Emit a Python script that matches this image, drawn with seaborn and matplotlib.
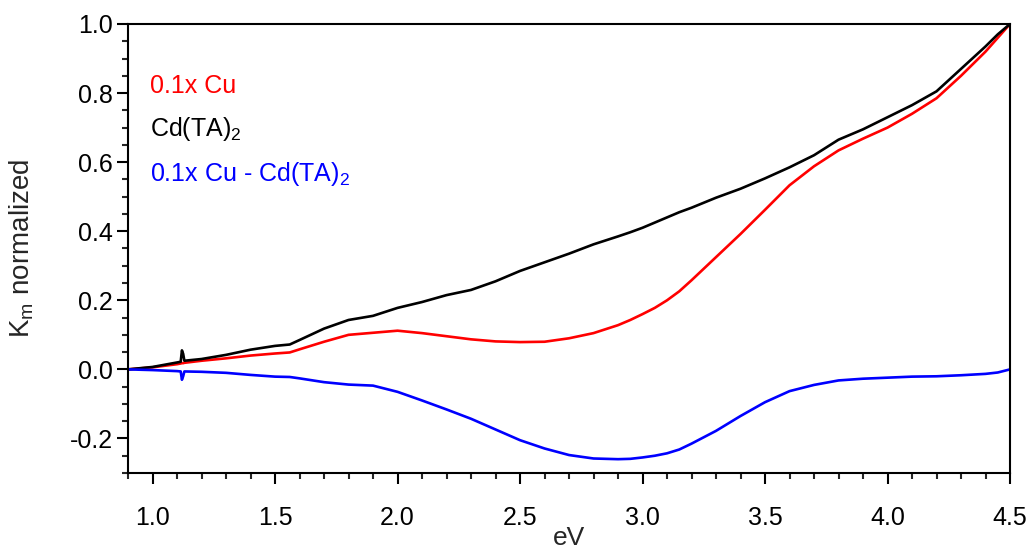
import numpy as np
import pandas as pd
import matplotlib
matplotlib.use("Agg")
import matplotlib.pyplot as plt
from matplotlib.ticker import MultipleLocator, FormatStrFormatter
import seaborn as sns

# ---- data ----
energy_ev = [0.9, 1.0, 1.1, 1.115, 1.12, 1.125, 1.13, 1.2, 1.3, 1.4, 1.5, 1.56, 1.6,
             1.7, 1.8, 1.9, 2.0, 2.1, 2.2, 2.3, 2.4, 2.5, 2.6, 2.7, 2.8, 2.9, 2.95,
             3.0, 3.05, 3.1, 3.15, 3.2, 3.3, 3.4, 3.5, 3.6, 3.7, 3.8, 3.9, 4.0, 4.1,
             4.2, 4.3, 4.4, 4.45, 4.5]

cu_01x = [0.0, 0.006, 0.015, 0.017, 0.018, 0.018, 0.019, 0.025, 0.032, 0.040, 0.046,
          0.049, 0.058, 0.080, 0.100, 0.106, 0.112, 0.105, 0.096, 0.087, 0.081, 0.079,
          0.080, 0.090, 0.105, 0.128, 0.143, 0.160, 0.178, 0.200, 0.226, 0.258, 0.325,
          0.392, 0.462, 0.533, 0.588, 0.634, 0.668, 0.700, 0.740, 0.785, 0.850, 0.920,
          0.960, 1.0]

cd_ta2 = [0.0, 0.007, 0.020, 0.022, 0.055, 0.045, 0.025, 0.030, 0.042, 0.057, 0.068,
          0.072, 0.085, 0.118, 0.143, 0.155, 0.178, 0.195, 0.215, 0.230, 0.255, 0.285,
          0.310, 0.335, 0.362, 0.385, 0.397, 0.410, 0.425, 0.440, 0.455, 0.468, 0.497,
          0.523, 0.553, 0.585, 0.620, 0.665, 0.695, 0.730, 0.765, 0.805, 0.870, 0.935,
          0.970, 1.0]

difference = [0.0, -0.002, -0.005, -0.006, -0.030, -0.020, -0.006, -0.007, -0.010,
              -0.016, -0.021, -0.022, -0.026, -0.037, -0.044, -0.047, -0.065, -0.090,
              -0.116, -0.143, -0.174, -0.205, -0.229, -0.248, -0.258, -0.260, -0.259,
              -0.255, -0.250, -0.243, -0.232, -0.215, -0.178, -0.135, -0.095, -0.063,
              -0.045, -0.032, -0.027, -0.024, -0.021, -0.020, -0.017, -0.013, -0.009,
              0.0]

series_labels = ["0.1x Cu", r"Cd(TA)$_2$", r"0.1x Cu - Cd(TA)$_2$"]
series_colors = ["#ff0000", "#000000", "#0000ff"]

x_label = "eV"
y_label = r"K$_\mathrm{m}$ normalized"

# ---- build long table ----
frames = []
for lab, vals in zip(series_labels, [cu_01x, cd_ta2, difference]):
    frames.append(pd.DataFrame({"eV": energy_ev, "K": vals, "series": lab}))
df = pd.concat(frames, ignore_index=True)

sns.set_style("ticks")
plt.rcParams["font.family"] = ["Liberation Sans", "DejaVu Sans"]
plt.rcParams["mathtext.fontset"] = "custom"
plt.rcParams["mathtext.rm"] = "Liberation Sans"
plt.rcParams["mathtext.it"] = "Liberation Sans:italic"
plt.rcParams["mathtext.default"] = "regular"

fig = plt.figure(figsize=(10.3, 5.5), dpi=100)
ax = fig.add_axes([0.1243, 0.14, 0.9806 - 0.1243, 0.9564 - 0.14])

sns.lineplot(data=df, x="eV", y="K", hue="series", hue_order=series_labels,
             palette=dict(zip(series_labels, series_colors)), estimator=None,
             sort=False, linewidth=1.9, ax=ax)

ax.set_xlim(0.9, 4.5)
ax.set_ylim(-0.3, 1.0)
ax.xaxis.set_major_locator(MultipleLocator(0.5))
ax.xaxis.set_minor_locator(MultipleLocator(0.1))
ax.yaxis.set_major_locator(MultipleLocator(0.2))
ax.yaxis.set_minor_locator(MultipleLocator(0.05))
ax.xaxis.set_major_formatter(FormatStrFormatter("%.1f"))
ax.yaxis.set_major_formatter(FormatStrFormatter("%.1f"))

for sp in ax.spines.values():
    sp.set_linewidth(1.5)
    sp.set_color("black")
    sp.set_visible(True)

ax.tick_params(axis="both", which="major", direction="out", length=8, width=1.5,
               labelsize=18, colors="black")
ax.tick_params(axis="both", which="minor", direction="out", length=4.5, width=1.5)
ax.tick_params(axis="x", which="major", pad=16)
ax.tick_params(axis="y", which="major", pad=3)
ax.tick_params(top=False, right=False, which="both")

ax.set_xlabel(x_label, fontsize=19)
ax.set_ylabel(y_label, fontsize=20)
ax.xaxis.set_label_coords(0.5, -0.118)
ax.yaxis.set_label_coords(-0.104, 0.5)

leg = ax.legend(loc="upper left", bbox_to_anchor=(0.025, 0.889), frameon=False,
                handlelength=0, handletextpad=0, borderpad=0, borderaxespad=0,
                labelspacing=0.69, fontsize=18, labelcolor="linecolor")
for h in leg.legend_handles:
    h.set_visible(False)

fig.savefig("out.png", dpi=100)
